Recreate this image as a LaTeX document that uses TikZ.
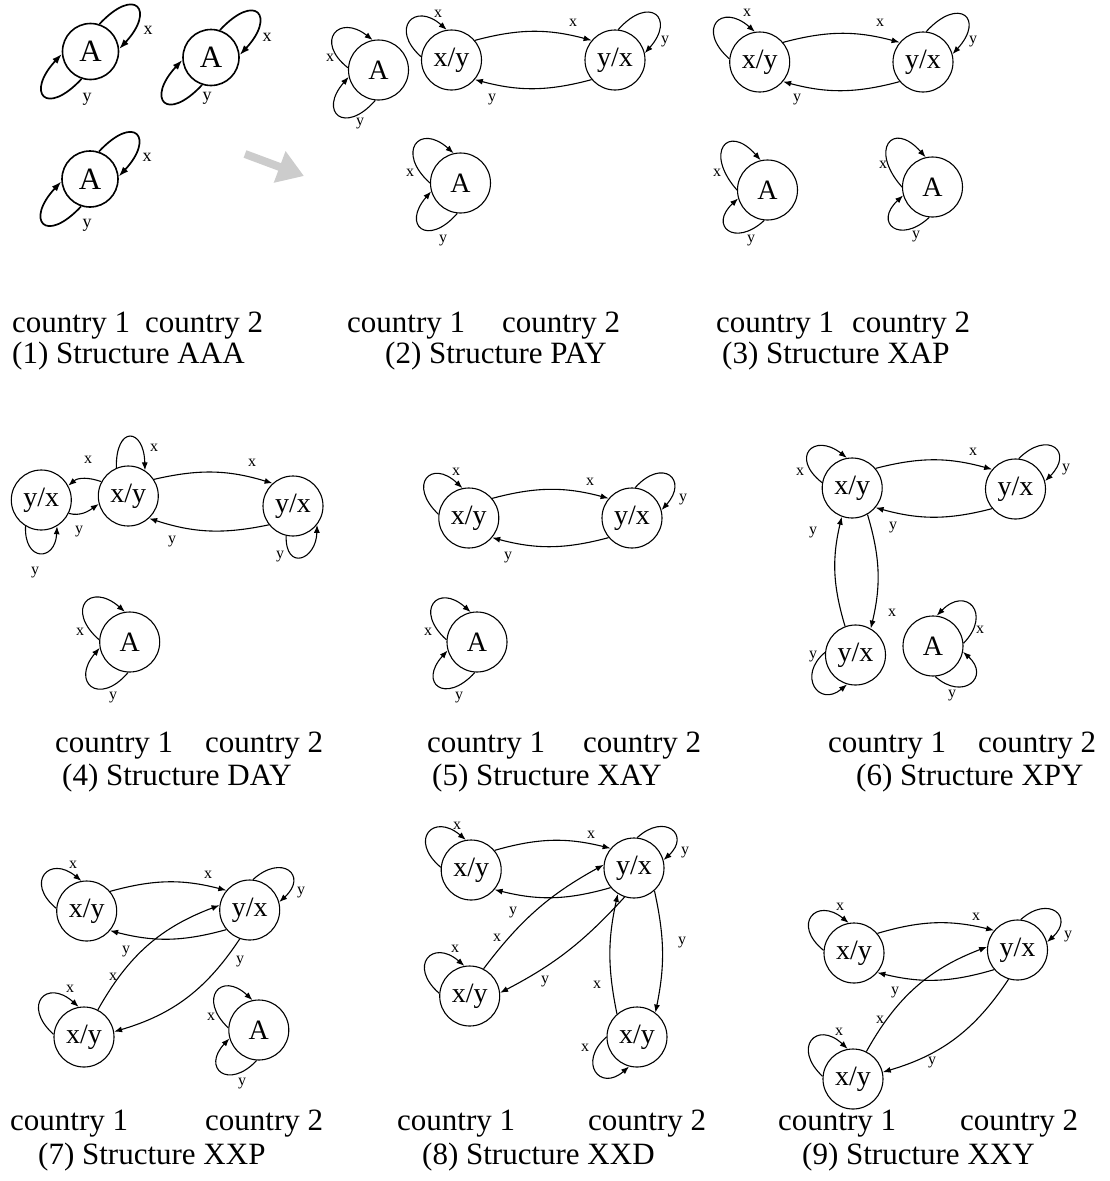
\documentclass[tikz,border=0pt]{standalone}
\usepackage{fontspec}
\setmainfont{Liberation Serif}
\usetikzlibrary{calc,arrows.meta}
\newcommand\sloop[4][arr]{\draw[#1] (#2) .. controls ($0.3333*(#2)+1.3333*(#3)-0.6667*(#4)$) and ($0.3333*(#4)+1.3333*(#3)-0.6667*(#2)$) .. (#4);}
\begin{document}
\begin{tikzpicture}[x=1pt,y=1pt,
  st/.style={circle,draw,line width=1.1pt,minimum size=60pt,inner sep=0pt,font=\fontsize{28}{28}\selectfont},
  stone/.style={st,minimum size=56pt,line width=1.6pt,font=\fontsize{31}{31}\selectfont},
  arr/.style={line width=1.1pt,-{Latex[length=8pt,width=6pt]}},
  arrone/.style={line width=1.7pt,-{Latex[length=10pt,width=7pt]}},
  lab/.style={inner sep=0pt,font=\fontsize{16}{16}\selectfont},
  labone/.style={inner sep=0pt,font=\fontsize{18}{18}\selectfont},
  txt/.style={inner sep=0pt,anchor=base west,font=\fontsize{31}{31}\selectfont}]
\useasboundingbox (0,0) rectangle (1110,-1181);
% ---------- panel 1
\node[stone] (p1a) at (90.5,-51.5) {A};
\node[stone] (p1b) at (211,-57.5) {A};
\node[stone] (p1c) at (90,-179) {A};
\sloop[arrone]{p1a.72}{136.5,-7.5}{p1a.5}
\sloop[arrone]{p1a.252}{44.5,-95.5}{p1a.185}
\sloop[arrone]{p1b.72}{257,-13.5}{p1b.5}
\sloop[arrone]{p1b.252}{165,-101.5}{p1b.185}
\sloop[arrone]{p1c.72}{136,-135}{p1c.5}
\sloop[arrone]{p1c.252}{44,-223}{p1c.185}
\node[labone] (l1a) at (148,-30) {x};
\node[labone] (l1b) at (87,-99) {y};
\node[labone] (l1c) at (267,-37) {x};
\node[labone] (l1d) at (207,-98) {y};
\node[labone] (l1e) at (147,-157) {x};
\node[labone] (l1f) at (87,-225) {y};
\coordinate (g1) at (245,-154);
\coordinate (g2) at (304,-176);
\draw[line width=8pt,color=black!20,-{Triangle[length=26pt,width=32pt]}] (g1) -- (g2);
% ---------- panel 2
\node[st] (p2a) at (378.5,-70) {A};
\node[st] (p2b) at (451.5,-60) {x/y};
\node[st] (p2c) at (615,-60) {y/x};
\node[st] (p2d) at (460.5,-183) {A};
\sloop{p2a.176}{335,-34}{p2a.101}
\sloop{p2a.-96}{339,-115}{p2a.193}
\sloop{p2b.174}{410,-22}{p2b.99}
\sloop{p2c.84}{655,-15}{p2c.13}
\draw[arr] (p2b.40) to[bend left=15] (p2c.140);
\draw[arr] (p2c.-140) to[bend left=15] (p2b.-40);
\sloop{p2d.180}{416,-145}{p2d.103}
\sloop{p2d.-96}{422,-228}{p2d.196}
\node[lab] (l2a) at (330,-58) {x};
\node[lab] (l2b) at (360,-124) {y};
\node[lab] (l2c) at (438,-14) {x};
\node[lab] (l2d) at (665,-42) {y};
\node[lab] (l2e) at (573,-23) {x};
\node[lab] (l2f) at (492,-100) {y};
\node[lab] (l2g) at (410,-173) {x};
\node[lab] (l2h) at (443,-241) {y};
% ---------- panel 3
\node[st] (p3a) at (759.7,-62) {x/y};
\node[st] (p3b) at (923,-62) {y/x};
\node[st] (p3c) at (767.5,-190) {A};
\node[st] (p3d) at (932.5,-187) {A};
\sloop{p3a.174}{717,-23}{p3a.99}
\sloop{p3b.84}{964,-16}{p3b.15}
\draw[arr] (p3a.40) to[bend left=15] (p3b.140);
\draw[arr] (p3b.-140) to[bend left=15] (p3a.-40);
\sloop{p3c.180}{724,-147}{p3c.103}
\sloop{p3c.-96}{729,-230}{p3c.196}
\sloop{p3d.180}{889,-144}{p3d.103}
\sloop{p3d.-96}{894,-227}{p3d.196}
\node[lab] (l3a) at (747,-13) {x};
\node[lab] (l3b) at (973,-42) {y};
\node[lab] (l3c) at (880,-23) {x};
\node[lab] (l3d) at (797,-100) {y};
\node[lab] (l3e) at (717,-173) {x};
\node[lab] (l3f) at (751,-241) {y};
\node[lab] (l3g) at (883,-165) {x};
\node[lab] (l3h) at (916,-237) {y};
% ---------- panel 4
\node[st] (p4a) at (41.3,-500) {y/x};
\node[st] (p4b) at (128.3,-496) {x/y};
\node[st] (p4c) at (293,-506) {y/x};
\node[st] (p4d) at (129.7,-642) {A};
\sloop{p4b.113}{130,-437}{p4b.57}
\draw[arr] (p4b.152) to[out=160,in=40] (p4a.28);
\draw[arr] (p4a.-26) to[out=-15,in=-145] (p4b.-165);
\draw[arr] (p4b.33) to[bend left=15] (p4c.132);
\draw[arr] (p4c.-142) to[bend left=15] (p4b.-47);
\sloop{p4a.-121}{40,-553}{p4a.-59}
\sloop{p4c.-103}{301,-557}{p4c.-38}
\sloop{p4d.176}{86,-603}{p4d.99}
\sloop{p4d.-93}{92,-686}{p4d.191}
\node[lab] (l4a) at (154,-448) {x};
\node[lab] (l4b) at (88,-460) {x};
\node[lab] (l4c) at (79,-532) {y};
\node[lab] (l4d) at (252,-463) {x};
\node[lab] (l4e) at (172,-542) {y};
\node[lab] (l4f) at (35,-573) {y};
\node[lab] (l4g) at (280,-557) {y};
\node[lab] (l4h) at (80,-632) {x};
\node[lab] (l4i) at (113,-698) {y};
% ---------- panel 5
\node[st] (p5a) at (468.8,-518) {x/y};
\node[st] (p5b) at (632,-518) {y/x};
\node[st] (p5c) at (477,-642) {A};
\sloop{p5a.173}{427,-479}{p5a.102}
\draw[arr] (p5a.40) to[bend left=15] (p5b.140);
\draw[arr] (p5b.-140) to[bend left=15] (p5a.-40);
\sloop{p5b.84}{669,-476}{p5b.15}
\sloop{p5c.176}{434,-604}{p5c.102}
\sloop{p5c.-94}{439,-686}{p5c.196}
\node[lab] (l5a) at (456,-472) {x};
\node[lab] (l5b) at (590,-482) {x};
\node[lab] (l5c) at (508,-558) {y};
\node[lab] (l5d) at (683,-500) {y};
\node[lab] (l5e) at (428,-632) {x};
\node[lab] (l5f) at (459,-698) {y};
% ---------- panel 6
\node[st] (p6a) at (852.2,-488) {x/y};
\node[st] (p6b) at (1015.5,-489) {y/x};
\node[st] (p6c) at (855.5,-655) {y/x};
\node[st] (p6d) at (933,-646) {A};
\sloop{p6a.170}{810,-451}{p6a.100}
\draw[arr] (p6a.40) to[bend left=15] (p6b.140);
\draw[arr] (p6b.-140) to[bend left=15] (p6a.-40);
\sloop{p6b.84}{1054,-448}{p6b.15}
\draw[arr] (p6c.110) to[bend left=15] (p6a.-110);
\draw[arr] (p6a.-60) to[bend left=15] (p6c.60);
\sloop{p6c.175}{815,-686}{p6c.-106}
\sloop{p6d.5}{972,-607}{p6d.83}
\sloop{p6d.-86}{970,-683}{p6d.-11}
\node[lab] (l6a) at (800,-472) {x};
\node[lab] (l6b) at (973,-452) {x};
\node[lab] (l6c) at (893,-528) {y};
\node[lab] (l6d) at (1066,-470) {y};
\node[lab] (l6e) at (813,-533) {y};
\node[lab] (l6f) at (892,-613) {x};
\node[lab] (l6g) at (813,-657) {y};
\node[lab] (l6h) at (980,-630) {x};
\node[lab] (l6i) at (952,-696) {y};
% ---------- panel 7
\node[st] (p7a) at (86.7,-911) {x/y};
\node[st] (p7b) at (249.7,-910) {y/x};
\node[st] (p7c) at (84,-1037) {x/y};
\node[st] (p7d) at (258.8,-1030) {A};
\sloop{p7a.175}{45,-875}{p7a.100}
\draw[arr] (p7a.40) to[bend left=15] (p7b.140);
\draw[arr] (p7b.-140) to[bend left=15] (p7a.-40);
\sloop{p7b.84}{288,-871}{p7b.15}
\draw[arr] (p7c.63) to[bend left=20] (p7b.171);
\draw[arr] (p7b.-109) to[bend left=20] (p7c.10);
\sloop{p7c.175}{42,-999}{p7c.100}
\sloop{p7d.176}{217,-992}{p7d.102}
\sloop{p7d.-94}{222,-1072}{p7d.196}
\node[lab] (l7a) at (73,-865) {x};
\node[lab] (l7b) at (208,-875) {x};
\node[lab] (l7c) at (126,-952) {y};
\node[lab] (l7d) at (301,-893) {y};
\node[lab] (l7e) at (113,-977) {x};
\node[lab] (l7f) at (240,-962) {y};
\node[lab] (l7g) at (70,-989) {x};
\node[lab] (l7h) at (211,-1017) {x};
\node[lab] (l7i) at (242,-1084) {y};
% ---------- panel 8
\node[st] (p8a) at (471.2,-870) {x/y};
\node[st] (p8b) at (634,-868) {y/x};
\node[st] (p8c) at (469.7,-996) {x/y};
\node[st] (p8d) at (637,-1037) {x/y};
\sloop{p8a.175}{429,-833}{p8a.100}
\draw[arr] (p8a.40) to[bend left=15] (p8b.140);
\draw[arr] (p8b.-140) to[bend left=15] (p8a.-40);
\sloop{p8b.84}{671,-830}{p8b.15}
\sloop{p8c.175}{428,-959}{p8c.100}
\draw[arr] (p8c.63) to[bend left=12] (p8b.174);
\draw[arr] (p8b.-108) to[bend left=10] (p8c.6);
\draw[arr] (p8b.-48) to[bend left=12] (p8d.53);
\draw[arr] (p8d.131) to[bend left=12] (p8b.-122);
\sloop{p8d.180}{596,-1071}{p8d.-105}
\node[lab] (l8a) at (457,-826) {x};
\node[lab] (l8b) at (591,-835) {x};
\node[lab] (l8c) at (513,-913) {y};
\node[lab] (l8d) at (685,-853) {y};
\node[lab] (l8j) at (455,-949) {x};
\node[lab] (l8e) at (497,-938) {x};
\node[lab] (l8f) at (545,-982) {y};
\node[lab] (l8g) at (682,-943) {y};
\node[lab] (l8h) at (597,-985) {x};
\node[lab] (l8i) at (585,-1048) {x};
% ---------- panel 9
\node[st] (p9a) at (854,-953) {x/y};
\node[st] (p9b) at (1017.5,-950) {y/x};
\node[st] (p9c) at (853,-1079) {x/y};
\sloop{p9a.175}{812,-917}{p9a.100}
\draw[arr] (p9a.40) to[bend left=15] (p9b.140);
\draw[arr] (p9b.-140) to[bend left=15] (p9a.-40);
\sloop{p9b.84}{1055,-912}{p9b.15}
\draw[arr] (p9c.64) to[bend left=20] (p9b.174);
\draw[arr] (p9b.-107) to[bend left=20] (p9c.13);
\sloop{p9c.175}{812,-1041}{p9c.100}
\node[lab] (l9a) at (840,-907) {x};
\node[lab] (l9b) at (976,-917) {x};
\node[lab] (l9c) at (895,-993) {y};
\node[lab] (l9d) at (1068,-937) {y};
\node[lab] (l9e) at (880,-1020) {x};
\node[lab] (l9f) at (932,-1063) {y};
\node[lab] (l9g) at (839,-1032) {x};
% ---------- captions
\node[txt] (c1a) at (12,-332) {country 1};
\node[txt] (c1b) at (145,-332) {country 2};
\node[txt] (s1) at (12,-363) {(1) Structure AAA};
\node[txt] (c2a) at (347,-332) {country 1};
\node[txt] (c2b) at (502,-332) {country 2};
\node[txt] (s2) at (385,-363) {(2) Structure PAY};
\node[txt] (c3a) at (716,-332) {country 1};
\node[txt] (c3b) at (852,-332) {country 2};
\node[txt] (s3) at (722,-363) {(3) Structure XAP};
\node[txt] (c4a) at (55,-752) {country 1};
\node[txt] (c4b) at (205,-752) {country 2};
\node[txt] (s4) at (62,-785) {(4) Structure DAY};
\node[txt] (c5a) at (427,-752) {country 1};
\node[txt] (c5b) at (583,-752) {country 2};
\node[txt] (s5) at (432,-785) {(5) Structure XAY};
\node[txt] (c6a) at (828,-752) {country 1};
\node[txt] (c6b) at (978,-752) {country 2};
\node[txt] (s6) at (856,-785) {(6) Structure XPY};
\node[txt] (c7a) at (10,-1130) {country 1};
\node[txt] (c7b) at (205,-1130) {country 2};
\node[txt] (s7) at (38,-1164) {(7) Structure XXP};
\node[txt] (c8a) at (397,-1130) {country 1};
\node[txt] (c8b) at (588,-1130) {country 2};
\node[txt] (s8) at (422,-1164) {(8) Structure XXD};
\node[txt] (c9a) at (778,-1130) {country 1};
\node[txt] (c9b) at (960,-1130) {country 2};
\node[txt] (s9) at (802,-1164) {(9) Structure XXY};
\end{tikzpicture}
\end{document}
